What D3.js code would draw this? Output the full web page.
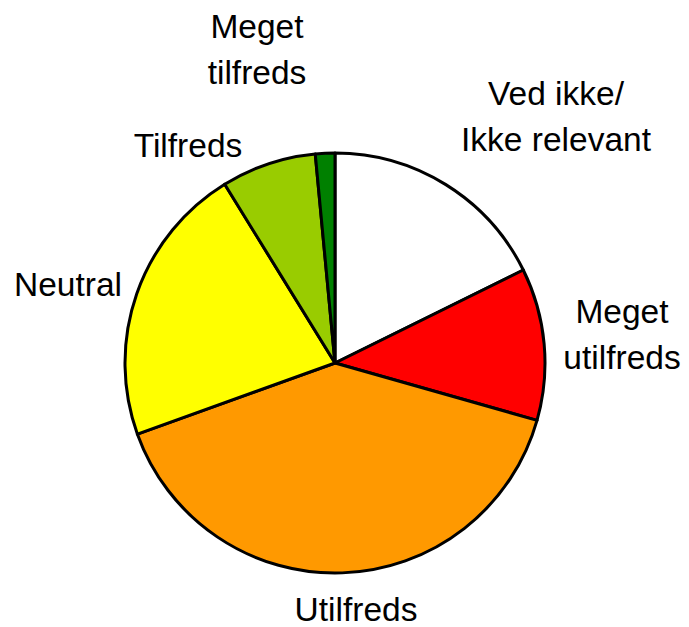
<!DOCTYPE html>
<html>
<head>
<meta charset="utf-8">
<script src="https://cdn.jsdelivr.net/npm/d3@7"></script>
<style>
  html, body { margin: 0; padding: 0; background: #fff; }
  svg { display: block; }
  text { font-family: "Liberation Sans", Arial, sans-serif; font-size: 33.5px; fill: #000; }
</style>
</head>
<body>
<svg id="chart" width="689" height="627"></svg>
<script>
(function () {
    "use strict";

    // slices, clockwise from 12 o'clock
    var categories = ["Ved ikke/\nIkke relevant", "Meget\nutilfreds", "Utilfreds", "Neutral", "Tilfreds", "Meget\ntilfreds"];
    var shares = [17.7, 11.7, 40.1, 21.7, 7.3, 1.5];
    var colors = ["#ffffff", "#ff0000", "#ff9900", "#ffff00", "#99cc00", "#008000"];

    // label anchor (centre x, first baseline y), picked by hand like the original
    var labelPos = [[556, 105], [622, 323], [356, 621], [68, 296], [188, 157], [257, 38]];
    var lineGap = 46;

    var w = 689, h = 627;
    var cx = 335, cy = 363, r = 210;

    var svg = d3.select("#chart");

    var pie = d3.pie().sort(null).value(function (d) { return d; });
    var arc = d3.arc().innerRadius(0).outerRadius(r);

    var g = svg.append("g").attr("transform", "translate(" + cx + "," + cy + ")");

    g.selectAll("path")
        .data(pie(shares))
        .enter()
        .append("path")
        .attr("d", arc)
        .attr("fill", function (d, i) { return colors[i]; })
        .attr("stroke", "#000")
        .attr("stroke-width", 3)
        .attr("stroke-linejoin", "round");

    var labels = svg.selectAll("text.lbl")
        .data(categories)
        .enter()
        .append("text")
        .attr("class", "lbl")
        .attr("text-anchor", "middle");

    labels.each(function (d, i) {
        var t = d3.select(this);
        d.split("\n").forEach(function (line, k) {
            t.append("tspan")
                .attr("x", labelPos[i][0])
                .attr("y", labelPos[i][1] + k * lineGap)
                .text(line);
        });
    });
})();
</script>
</body>
</html>
